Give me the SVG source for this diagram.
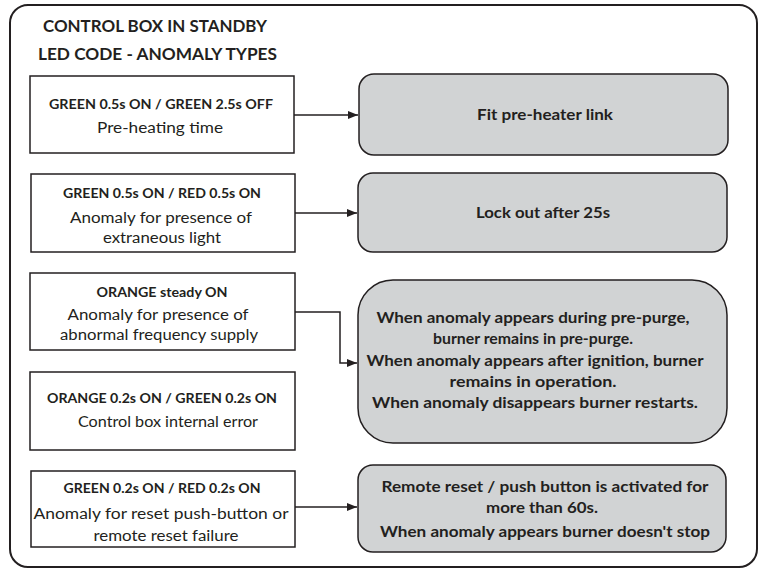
<svg xmlns="http://www.w3.org/2000/svg" width="763" height="574" viewBox="0 0 763 574">
<style>
text{font-family:Lato,"Open Sans","Liberation Sans",sans-serif;fill:#231f20;text-anchor:middle}
.t{font-size:17px;font-weight:bold;text-anchor:start}
.b{font-size:13.8px;font-weight:bold}
.n{font-size:15.5px}
.r{font-size:15px;font-weight:bold}
.lb{fill:#fff;stroke:#231f20;stroke-width:1.5}
.rb{fill:#d1d3d4;stroke:#231f20;stroke-width:1.5}
.c{fill:none;stroke:#231f20;stroke-width:1.5}
</style>
<defs>
<marker id="ah" viewBox="0 0 10 8" refX="10" refY="4" markerWidth="10" markerHeight="8" markerUnits="userSpaceOnUse" orient="auto">
<path d="M0,0 L10,4 L0,8 z" fill="#231f20"/>
</marker>
</defs>
<rect x="10" y="5" width="747" height="562" rx="18" fill="#fff" stroke="#231f20" stroke-width="2"/>
<g id="title">
<text class="t" x="43" y="32" textLength="224" lengthAdjust="spacingAndGlyphs">CONTROL BOX IN STANDBY</text>
<text class="t" x="38" y="60" textLength="239" lengthAdjust="spacingAndGlyphs">LED CODE - ANOMALY TYPES</text>
</g>
<g id="led1">
<rect class="lb" x="30" y="76" width="264" height="77"/>
<text class="b" x="161" y="109" textLength="224" lengthAdjust="spacingAndGlyphs">GREEN 0.5s ON / GREEN 2.5s OFF</text>
<text class="n" x="160" y="133" textLength="126" lengthAdjust="spacingAndGlyphs">Pre-heating time</text>
</g>
<g id="led2">
<rect class="lb" x="31" y="174" width="264" height="78"/>
<text class="b" x="162" y="198" textLength="198" lengthAdjust="spacingAndGlyphs">GREEN 0.5s ON / RED 0.5s ON</text>
<text class="n" x="161" y="223" textLength="182" lengthAdjust="spacingAndGlyphs">Anomaly for presence of</text>
<text class="n" x="162" y="243" textLength="118" lengthAdjust="spacingAndGlyphs">extraneous light</text>
</g>
<g id="led3">
<rect class="lb" x="30" y="273" width="265" height="77"/>
<text class="b" x="162" y="297" textLength="131" lengthAdjust="spacingAndGlyphs">ORANGE steady ON</text>
<text class="n" x="158" y="320" textLength="181" lengthAdjust="spacingAndGlyphs">Anomaly for presence of</text>
<text class="n" x="159" y="340" textLength="198" lengthAdjust="spacingAndGlyphs">abnormal frequency supply</text>
</g>
<g id="led4">
<rect class="lb" x="30" y="372" width="265" height="78"/>
<text class="b" x="162" y="403" textLength="230" lengthAdjust="spacingAndGlyphs">ORANGE 0.2s ON / GREEN 0.2s ON</text>
<text class="n" x="168" y="427" textLength="180" lengthAdjust="spacingAndGlyphs">Control box internal error</text>
</g>
<g id="led5">
<rect class="lb" x="31" y="471" width="264" height="76"/>
<text class="b" x="162" y="493" textLength="197" lengthAdjust="spacingAndGlyphs">GREEN 0.2s ON / RED 0.2s ON</text>
<text class="n" x="161" y="519" textLength="255" lengthAdjust="spacingAndGlyphs">Anomaly for reset push-button or</text>
<text class="n" x="166" y="541" textLength="145" lengthAdjust="spacingAndGlyphs">remote reset failure</text>
</g>
<g id="res1">
<rect class="rb" x="359" y="74" width="369" height="81" rx="15"/>
<text class="r" x="545" y="120" textLength="136" lengthAdjust="spacingAndGlyphs">Fit pre-heater link</text>
</g>
<g id="res2">
<rect class="rb" x="358" y="173" width="369" height="79" rx="15"/>
<text class="r" x="543" y="218" textLength="134" lengthAdjust="spacingAndGlyphs">Lock out after 25s</text>
</g>
<g id="res3">
<rect class="rb" x="358" y="280" width="369" height="163" rx="35"/>
<text class="r" x="533" y="323" textLength="313" lengthAdjust="spacingAndGlyphs">When anomaly appears during pre-purge,</text>
<text class="r" x="533" y="344" textLength="200" lengthAdjust="spacingAndGlyphs">burner remains in pre-purge.</text>
<text class="r" x="535" y="366" textLength="337" lengthAdjust="spacingAndGlyphs">When anomaly appears after ignition, burner</text>
<text class="r" x="533" y="387" textLength="167" lengthAdjust="spacingAndGlyphs">remains in operation.</text>
<text class="r" x="535" y="408" textLength="326" lengthAdjust="spacingAndGlyphs">When anomaly disappears burner restarts.</text>
</g>
<g id="res4">
<rect class="rb" x="358" y="465" width="368" height="87" rx="15"/>
<text class="r" x="545" y="492" textLength="327" lengthAdjust="spacingAndGlyphs">Remote reset / push button is activated for</text>
<text class="r" x="542" y="513" textLength="112" lengthAdjust="spacingAndGlyphs">more than 60s.</text>
<text class="r" x="545" y="537" textLength="330" lengthAdjust="spacingAndGlyphs">When anomaly appears burner doesn't stop</text>
</g>
<g id="connectors">
<path class="c" d="M294,115 H358" marker-end="url(#ah)"/>
<path class="c" d="M295,213 H357" marker-end="url(#ah)"/>
<path class="c" d="M295,312 H340 V363 H357" marker-end="url(#ah)"/>
<path class="c" d="M295,507 H357" marker-end="url(#ah)"/>
</g>
</svg>
